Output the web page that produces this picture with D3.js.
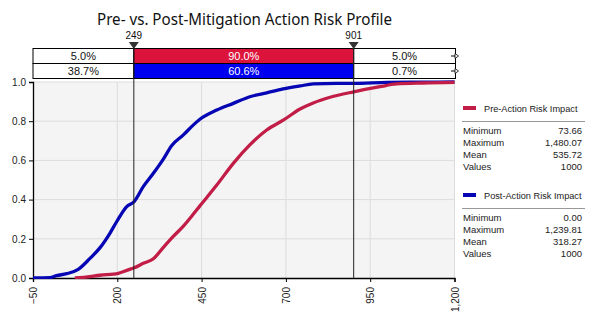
<!DOCTYPE html>
<html><head><meta charset="utf-8">
<script src="https://cdn.jsdelivr.net/npm/d3@7"></script>
<style>
html,body{margin:0;padding:0;background:#fff;}
svg{display:block;font-family:"Liberation Sans",Arial,sans-serif;}
</style></head>
<body><svg id="c" width="592" height="324"></svg>
<script>
// ---- data ----
const title = "Pre- vs. Post-Mitigation Action Risk Profile";
const markers = [249, 901];
const preTop = ["5.0%", "90.0%", "5.0%"];
const postTop = ["38.7%", "60.6%", "0.7%"];
const xTicks = [-50, 200, 450, 700, 950, 1200];
const yTicks = [0, 0.2, 0.4, 0.6, 0.8, 1.0];

const preX = [74, 100, 149, 203, 230, 250, 277, 307, 336, 366, 396, 425, 445, 495, 544, 593, 643, 692, 742, 781, 831, 901, 979, 1028, 1106, 1200];
const preP = [0, 0.003, 0.014, 0.024, 0.04, 0.052, 0.075, 0.098, 0.155, 0.212, 0.265, 0.325, 0.368, 0.474, 0.585, 0.679, 0.755, 0.805, 0.862, 0.893, 0.922, 0.95, 0.976, 0.99, 0.995, 0.998];
const postX = [-50, 0, 20, 50, 84, 119, 149, 178, 198, 228, 250, 277, 307, 336, 361, 396, 425, 445, 495, 544, 593, 643, 692, 742, 781, 850, 901, 1000, 1100, 1200];
const postP = [0, 0.002, 0.012, 0.022, 0.044, 0.10, 0.155, 0.228, 0.287, 0.364, 0.39, 0.466, 0.534, 0.605, 0.675, 0.73, 0.78, 0.81, 0.857, 0.891, 0.925, 0.945, 0.965, 0.98, 0.99, 0.993, 0.993, 0.998, 0.999, 1.0];

const legendItems = [
  {name: "Pre-Action Risk Impact", color: "#C21D47", stats: [["Minimum","73.66"],["Maximum","1,480.07"],["Mean","535.72"],["Values","1000"]]},
  {name: "Post-Action Risk Impact", color: "#0606B4", stats: [["Minimum","0.00"],["Maximum","1,239.81"],["Mean","318.27"],["Values","1000"]]}
];

// ---- layout ----
const svg = d3.select("#c");
const X0 = 33, X1 = 454.5, YT = 82, YB = 278;
const x = d3.scaleLinear().domain([-50, 1200]).range([X0, X1]);
const y = d3.scaleLinear().domain([0, 1]).range([YB, YT]);

svg.append("text").attr("x", 244.5).attr("y", 25).attr("text-anchor", "middle")
  .attr("font-family", "'Noto Sans','Open Sans',sans-serif").attr("font-size", 17).attr("fill", "#111")
  .attr("textLength", 295).attr("lengthAdjust", "spacingAndGlyphs").text(title);

// plot background
svg.append("rect").attr("x", X0).attr("y", YT).attr("width", X1 - X0).attr("height", YB - YT).attr("fill", "#F4F4F4");
// grid
svg.append("g").selectAll("line").data(xTicks.slice(1)).join("line")
  .attr("x1", d => x(d)).attr("x2", d => x(d)).attr("y1", YT).attr("y2", YB).attr("stroke", "#DCDCDC");
svg.append("g").selectAll("line").data(yTicks.slice(1)).join("line")
  .attr("x1", X0).attr("x2", X1).attr("y1", d => y(d)).attr("y2", d => y(d)).attr("stroke", "#DCDCDC");

// axes
const yAxis = svg.append("g").attr("transform", `translate(${X0},0)`)
  .call(d3.axisLeft(y).tickValues(yTicks).tickFormat(d3.format(".1f")).tickSizeOuter(0).tickSize(4));
yAxis.selectAll("text").attr("font-size", 10).attr("fill", "#222").attr("font-family", "'Liberation Sans',Arial,sans-serif");
const xAxis = svg.append("g").attr("transform", `translate(0,${YB})`)
  .call(d3.axisBottom(x).tickValues(xTicks).tickFormat(d3.format(",")).tickSizeOuter(0).tickSize(4));
xAxis.selectAll("text").attr("font-size", 10).attr("fill", "#222").attr("font-family", "'Liberation Sans',Arial,sans-serif")
  .attr("transform", "rotate(-90)").attr("text-anchor", "end").attr("x", -9).attr("y", 0).attr("dy", "0.35em");
svg.selectAll(".domain").attr("stroke", "#000").attr("stroke-width", 1.3);
svg.selectAll(".tick line").attr("stroke", "#000");

// curves
const line = d3.line().x(d => x(d[0])).y(d => y(d[1])).curve(d3.curveMonotoneX);
svg.append("clipPath").attr("id", "clp").append("rect").attr("x", X0).attr("y", YT - 3).attr("width", X1 - X0 + 1).attr("height", YB - YT + 4);
svg.append("path").datum(d3.zip(postX, postP)).attr("d", line).attr("fill", "none")
  .attr("stroke", legendItems[1].color).attr("stroke-width", 3.3).attr("clip-path", "url(#clp)");
svg.append("path").datum(d3.zip(preX, preP)).attr("d", line).attr("fill", "none")
  .attr("stroke", legendItems[0].color).attr("stroke-width", 3.3).attr("clip-path", "url(#clp)");

// top bars
const rows = [{vals: preTop, fill: "#DC143C", y0: 48.5}, {vals: postTop, fill: "#0000F0", y0: 63.5}];
const RH = 15, BR = 455.5;
rows.forEach(r => {
  const edges = [X0, x(markers[0]), x(markers[1]), BR];
  for (let i = 0; i < 3; i++) {
    svg.append("rect").attr("x", edges[i]).attr("y", r.y0).attr("width", edges[i + 1] - edges[i]).attr("height", RH)
      .attr("fill", i === 1 ? r.fill : "#fff").attr("stroke", "#000").attr("stroke-width", 1);
    svg.append("text").attr("x", (edges[i] + edges[i + 1]) / 2).attr("y", r.y0 + 11.5).attr("text-anchor", "middle")
      .attr("font-size", 11).attr("fill", i === 1 ? "#fff" : "#111").text(r.vals[i]);
  }
  const cy = r.y0 + RH / 2;
  svg.append("line").attr("x1", 451).attr("x2", 455).attr("y1", cy).attr("y2", cy).attr("stroke", "#000");
  svg.append("path").attr("d", `M455,${cy - 2.5}L458.5,${cy}L455,${cy + 2.5}Z`).attr("fill", "#fff").attr("stroke", "#000").attr("stroke-width", 0.8);
});

// markers
markers.forEach(m => {
  const mx = x(m);
  svg.append("line").attr("x1", mx).attr("x2", mx).attr("y1", 46).attr("y2", YB).attr("stroke", "#222").attr("stroke-width", 1);
  svg.append("path").attr("d", `M${mx - 5},${42}L${mx + 5},${42}L${mx},${49}Z`).attr("fill", "#333");
  svg.append("text").attr("x", mx).attr("y", 39).attr("text-anchor", "middle").attr("font-size", 10).attr("fill", "#111").text(m);
});

// legend
const legY = [108, 195];
legendItems.forEach((it, k) => {
  const ly = legY[k];
  svg.append("line").attr("x1", 463).attr("x2", 476).attr("y1", ly).attr("y2", ly).attr("stroke", it.color).attr("stroke-width", 4);
  svg.append("text").attr("x", 484).attr("y", ly + 3.5).attr("font-size", 9.2).attr("fill", "#222").text(it.name);
  svg.append("line").attr("x1", 462).attr("x2", 585).attr("y1", ly + 13.5).attr("y2", ly + 13.5).attr("stroke", "#999");
  it.stats.forEach((s, j) => {
    const by = ly + 25.5 + j * 12;
    svg.append("text").attr("x", 463).attr("y", by).attr("font-size", 9.5).attr("fill", "#222").text(s[0]);
    svg.append("text").attr("x", 582).attr("y", by).attr("text-anchor", "end").attr("font-size", 9.5).attr("fill", "#222").text(s[1]);
  });
});
</script></body></html>
